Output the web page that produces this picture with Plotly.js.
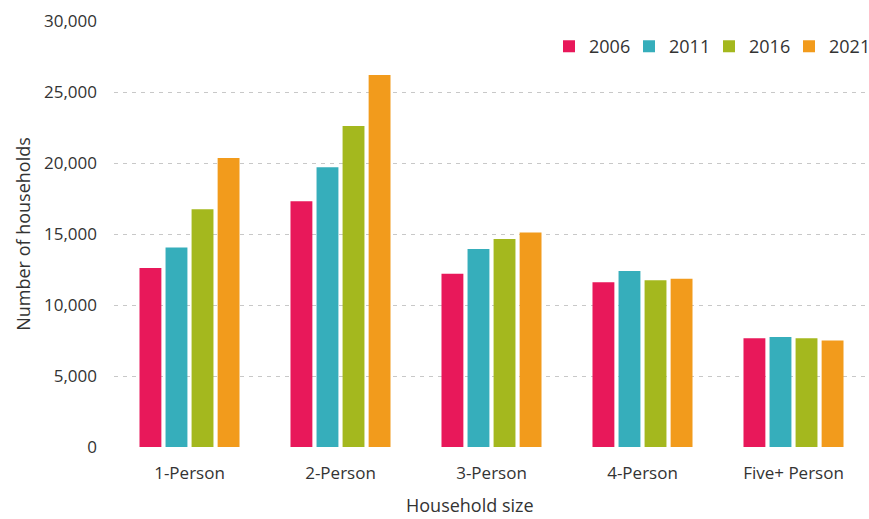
<!DOCTYPE html>
<html>
<head>
<meta charset="utf-8">
<script src="https://cdn.plot.ly/plotly-3.0.1.min.js"></script>
<style>
  html, body { margin: 0; padding: 0; background: #ffffff; }
  #chart { width: 869px; height: 519px; }
</style>
</head>
<body>
<div id="chart"></div>
<script>
// Households by size, census years 2006-2021
const categories = ['1-Person', '2-Person', '3-Person', '4-Person', 'Five+ Person'];
const years = ['2006', '2011', '2016', '2021'];
const households2006 = [12600, 17300, 12200, 11600, 7650];
const households2011 = [14050, 19700, 13950, 12400, 7750];
const households2016 = [16750, 22600, 14650, 11750, 7650];
const households2021 = [20350, 26200, 15100, 11850, 7500];
const yTickValues = [0, 5000, 10000, 15000, 20000, 25000, 30000];

const seriesValues = [households2006, households2011, households2016, households2021];
const colours = ['#E8185A', '#36AEBB', '#A4B81E', '#F29B1C'];

const FONT = '"Open Sans", "Noto Sans", sans-serif';
const TEXT = '#333333';

const traces = years.map((yr, i) => ({
  type: 'bar',
  name: yr,
  x: categories,
  y: seriesValues[i],
  marker: { color: colours[i], line: { width: 0 } },
  hoverinfo: 'x+y+name'
}));

const layout = {
  width: 869,
  height: 519,
  margin: { l: 114, r: 0, t: 21, b: 72 },
  paper_bgcolor: '#ffffff',
  plot_bgcolor: '#ffffff',
  font: { family: FONT, color: TEXT, size: 17 },
  barmode: 'group',
  bargap: 0.31,
  bargroupgap: 0.16,
  showlegend: true,
  legend: {
    orientation: 'h',
    x: 1, xanchor: 'right',
    y: 0.94, yanchor: 'middle',
    font: { family: FONT, size: 18, color: TEXT },
    bgcolor: 'rgba(0,0,0,0)',
    itemwidth: 30,
    entrywidth: 35,
    entrywidthmode: 'pixels',
    traceorder: 'normal'
  },
  xaxis: {
    type: 'category',
    range: [-0.5, 4.5],
    showgrid: false,
    zeroline: false,
    showline: false,
    ticks: '',
    ticklabelstandoff: 14,
    tickfont: { family: FONT, size: 17, color: TEXT },
    fixedrange: true
  },
  yaxis: {
    range: [0, 30000],
    tickvals: yTickValues,
    tickformat: ',d',
    showgrid: true,
    gridcolor: '#c8c8c8',
    gridwidth: 1,
    griddash: '4px,5px',
    zeroline: false,
    showline: false,
    ticks: '',
    ticklabelstandoff: 16,
    tickfont: { family: FONT, size: 17, color: TEXT },
    title: { text: 'Number of households', font: { family: FONT, size: 18, color: TEXT }, standoff: 8 },
    fixedrange: true
  },
  annotations: [{
    text: 'Household size',
    xref: 'paper', yref: 'paper',
    x: (470 - 114) / 755, y: 0,
    yshift: -58,
    xanchor: 'center', yanchor: 'middle',
    showarrow: false,
    font: { family: FONT, size: 18, color: TEXT }
  }]
};

Plotly.newPlot('chart', traces, layout, { displayModeBar: false, staticPlot: true });
</script>
</body>
</html>
